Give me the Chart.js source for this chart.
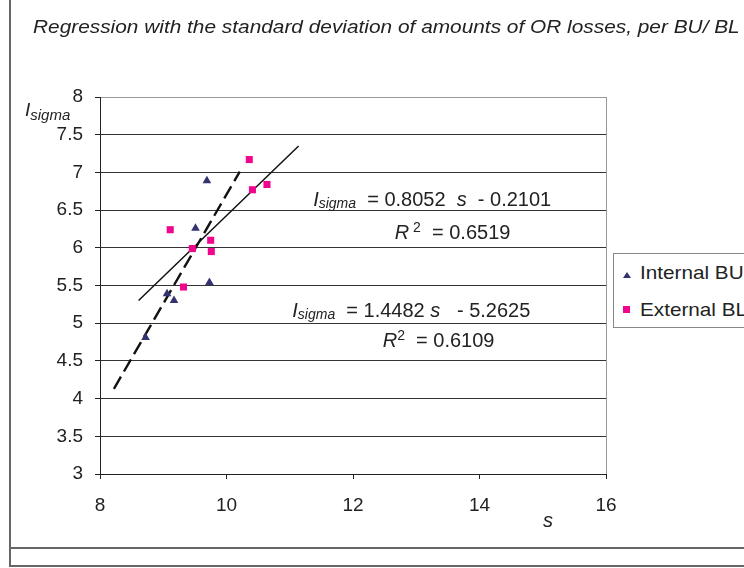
<!DOCTYPE html>
<html>
<head>
<meta charset="utf-8">
<script src="https://cdn.jsdelivr.net/npm/chart.js@4"></script>
<style>
  html, body { margin: 0; padding: 0; background: #fff; }
  #wrap { position: relative; width: 744px; height: 568px; overflow: hidden; font-family: 'Liberation Sans', Arial, sans-serif; color: #222; }
  #wrap canvas { position: absolute; left: 0; top: 0; }
  .txt { position: absolute; white-space: nowrap; line-height: 19px; font-size: 19px; }
  .frame { position: absolute; border-left: 2px solid #666; border-bottom: 2px solid #666; }
  #legend { position: absolute; left: 613px; top: 253px; width: 160px; height: 73px; border: 1px solid #888; background: #fff; }
  .mk-tri { position: absolute; width: 0; height: 0; border-left: 4px solid transparent; border-right: 4px solid transparent; border-bottom: 6px solid #333370; }
  .mk-sq { position: absolute; width: 7px; height: 7px; background: #f0068c; }
</style>
</head>
<body>
<div id="wrap">
  <div class="frame" style="left:9px; top:0; width:740px; height:547px;"></div>
  <div class="frame" style="left:9px; top:549px; width:740px; height:16px;"></div>
  <canvas id="chart"></canvas>
  <div class="txt" style="left:33px; top:17px; font-style:italic; transform:scaleX(1.097); transform-origin:left;">Regression with the standard deviation of amounts of OR losses, per BU/ BL</div>
  <div class="txt" style="left:25px; top:100px; font-style:italic;">I<span style="font-size:15px; position:relative; top:4px;">sigma</span></div>
  <div class="txt" style="left:543px; top:511px; font-style:italic; font-size:20px;">s</div>
  <div id="legend">
    <div class="mk-tri" style="left:9px; top:18px;"></div>
    <div class="txt" style="left:26px; top:9px; transform:scaleX(1.09); transform-origin:left;">Internal BU</div>
    <div class="mk-sq" style="left:9px; top:52px;"></div>
    <div class="txt" style="left:26px; top:46px; transform:scaleX(1.09); transform-origin:left;">External BL</div>
  </div>
</div>
<script>
// values
const internalS = [9.69, 9.51, 9.73, 9.06, 9.17, 8.72];
const internalI = [6.89, 6.26, 5.54, 5.39, 5.30, 4.81];
const externalS = [10.36, 10.41, 10.64, 9.11, 9.75, 9.46, 9.76, 9.32];
const externalI = [7.17, 6.77, 6.84, 6.24, 6.10, 5.99, 5.95, 5.48];

// trend lines (end points as drawn)
const solidLineS = [8.61, 11.14];
const solidLineI = [5.30, 7.35];
const dashedLineS = [8.22, 10.21];
const dashedLineI = [4.13, 7.01];

const xTicks = [8, 10, 12, 14, 16];
const yTicks = [3, 3.5, 4, 4.5, 5, 5.5, 6, 6.5, 7, 7.5, 8];

// equation labels, anchored in data units (s, I_sigma)
const eqAnchorS = [11.37, 12.66, 11.04, 12.47];
const eqAnchorI = [6.55, 6.12, 5.08, 4.68];
const eqParts = [
  [['I', 20, true, 0], ['sigma', 14, true, 2], ['  = 0.8052  ', 20, false, 0], ['s', 20, true, 0], ['  - 0.2101', 20, false, 0]],
  [['R', 20, true, 0], [' 2', 14, false, -7], ['  = 0.6519', 20, false, 0]],
  [['I', 20, true, 0], ['sigma', 14, true, 2], ['  = 1.4482 ', 20, false, 0], ['s', 20, true, 0], ['   - 5.2625', 20, false, 0]],
  [['R', 20, true, 0], ['2', 14, false, -7], ['  = 0.6109', 20, false, 0]],
];

const FONT = "'Liberation Sans', Arial, sans-serif";
const toPts = (xs, ys) => xs.map((x, i) => ({ x: x, y: ys[i] }));

const equationsPlugin = {
  id: 'equations',
  afterDatasetsDraw(chart) {
    const ctx = chart.ctx;
    const xs = chart.scales.x, ys = chart.scales.y;
    ctx.save();
    ctx.fillStyle = '#222';
    ctx.textBaseline = 'alphabetic';
    ctx.textAlign = 'left';
    eqParts.forEach((parts, k) => {
      let px = xs.getPixelForValue(eqAnchorS[k]);
      const py = ys.getPixelForValue(eqAnchorI[k]);
      parts.forEach(([t, size, italic, dy]) => {
        ctx.font = (italic ? 'italic ' : '') + size + 'px ' + FONT;
        ctx.fillText(t, px, py + dy);
        px += ctx.measureText(t).width;
      });
    });
    ctx.restore();
  }
};

const canvas = document.getElementById('chart');
canvas.width = 744;
canvas.height = 568;

new Chart(canvas, {
  data: {
    datasets: [
      {
        type: 'scatter',
        label: 'Internal BU',
        data: toPts(internalS, internalI),
        pointStyle: 'triangle',
        pointRadius: 5,
        pointBackgroundColor: '#333370',
        pointBorderWidth: 0,
      },
      {
        type: 'scatter',
        label: 'External BL',
        data: toPts(externalS, externalI),
        pointStyle: 'rect',
        pointRadius: 5,
        pointBackgroundColor: '#f0068c',
        pointBorderWidth: 0,
      },
      {
        type: 'line',
        label: 'fit 1',
        data: toPts(solidLineS, solidLineI),
        borderColor: '#111',
        borderWidth: 1.5,
        pointRadius: 0,
        fill: false,
      },
      {
        type: 'line',
        label: 'fit 2',
        data: toPts(dashedLineS, dashedLineI),
        borderColor: '#111',
        borderWidth: 2.4,
        borderDash: [14, 6],
        pointRadius: 0,
        fill: false,
      },
    ]
  },
  options: {
    responsive: false,
    animation: false,
    events: [],
    layout: { padding: { left: 0, top: 97, right: 138, bottom: 54 } },
    plugins: {
      legend: { display: false },
      tooltip: { enabled: false },
    },
    scales: {
      x: {
        type: 'linear',
        min: 8,
        max: 16,
        afterBuildTicks: (axis) => { axis.ticks = xTicks.map(v => ({ value: v })); },
        afterFit: (axis) => { axis.height = 40; },
        ticks: { color: '#222', font: { family: FONT, size: 19 }, padding: 15, callback: (v) => String(v) },
        grid: {
          color: (c) => (c.tick && c.tick.value === 16) ? '#999' : 'rgba(0,0,0,0)',
          tickColor: '#222',
          tickLength: 5,
          lineWidth: 1,
        },
        border: { color: '#222', width: 1 },
      },
      y: {
        type: 'linear',
        min: 3,
        max: 8,
        afterBuildTicks: (axis) => { axis.ticks = yTicks.map(v => ({ value: v })); },
        afterFit: (axis) => { axis.width = 100; },
        ticks: { color: '#222', font: { family: FONT, size: 19 }, padding: 12, callback: (v) => String(v) },
        grid: {
          color: (c) => (c.tick && c.tick.value === 8) ? '#999' : '#333',
          tickColor: '#222',
          tickLength: 5,
          lineWidth: 1,
        },
        border: { color: '#222', width: 1 },
      },
    },
  },
  plugins: [equationsPlugin],
});
</script>
</body>
</html>
